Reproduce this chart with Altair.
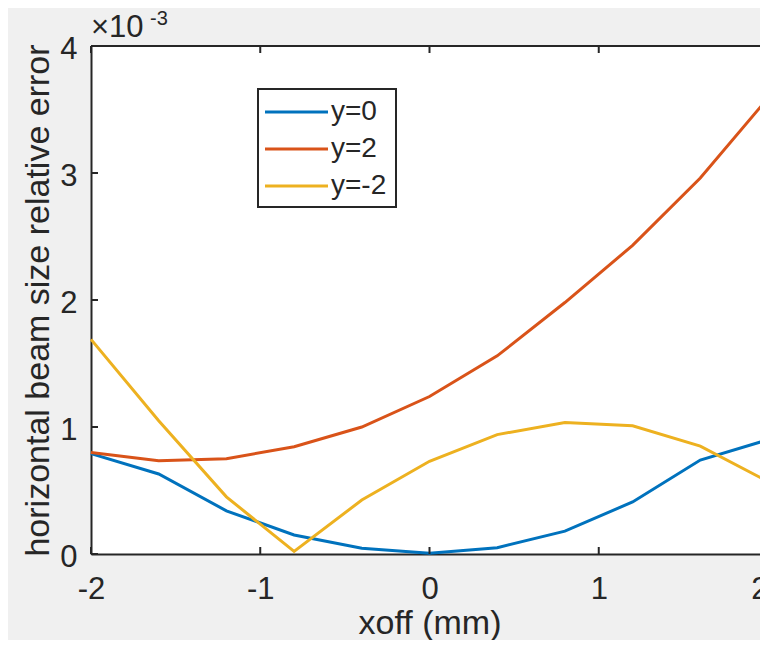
import altair as alt
import pandas as pd

# ---- data (values in units of 1e-3) ----
xoff = [-2.0, -1.6, -1.2, -0.8, -0.4, 0.0, 0.4, 0.8, 1.2, 1.6, 2.0]
err_y0 = [0.79, 0.63, 0.34, 0.15, 0.045, 0.005, 0.05, 0.18, 0.41, 0.74, 0.90]
err_y2 = [0.80, 0.735, 0.75, 0.845, 1.00, 1.24, 1.56, 1.98, 2.43, 2.96, 3.59]
err_ym2 = [1.69, 1.05, 0.45, 0.02, 0.425, 0.73, 0.94, 1.035, 1.01, 0.85, 0.57]
series = ["y=0", "y=2", "y=-2"]
colors = ["#0072BD", "#D95319", "#EDB120"]
x_ticks = [-2, -1, 0, 1, 2]
y_ticks = [0.0, 0.001, 0.002, 0.003, 0.004]

rows = []
for name, vals in zip(series, [err_y0, err_y2, err_ym2]):
    for xv, v in zip(xoff, vals):
        rows.append({"x": xv, "y": v * 1e-3, "series": name})
df = pd.DataFrame(rows)

FULL_W = 677          # full axis length (the original figure is cut at the right)
W, H = 669, 508       # visible part of the plot area
FONT = "Liberation Sans"
TXT = "#262626"

xs = alt.Scale(domain=[-2, 2], range=[0, FULL_W], nice=False, zero=False)
ys = alt.Scale(domain=[0, 0.004], nice=False, zero=False)
col = alt.Color("series:N", scale=alt.Scale(domain=series, range=colors), legend=None)

x_axis = alt.Axis(
    values=x_ticks, title="xoff (mm)", domain=True, domainColor=TXT, domainWidth=2,
    ticks=False, tickSize=0, grid=False,
    labelFontSize=31, labelColor=TXT, labelBaseline="alphabetic", labelPadding=44,
    labelFlush=False, labelOverlap=False, labelExpr="'' + datum.value",
    labelAlign={"condition": {"test": "datum.value == 2", "value": "right"}, "value": "center"},
    titleFontSize=34, titleFontWeight="normal", titleColor=TXT,
    titleBaseline="alphabetic", titleY=79, titleX=FULL_W / 2,
)
y_axis = alt.Axis(
    values=y_ticks, title="horizontal beam size relative error", domain=True,
    domainColor=TXT, domainWidth=2, ticks=False, tickSize=0, grid=False,
    labelFontSize=31, labelColor=TXT, labelBaseline="alphabetic", labelPadding=14,
    labelOffset=12, labelFlush=False, labelOverlap=False,
    labelExpr="'' + round(datum.value * 1000)",
    titleFontSize=34, titleFontWeight="normal", titleColor=TXT,
    titleBaseline="alphabetic", titleX=-43, titleAngle=270,
)

X = alt.X("x:Q", scale=xs, axis=x_axis)
Y = alt.Y("y:Q", scale=ys, axis=y_axis)

layers = []
for i, name in enumerate(series):
    sub = df[df["series"] == name]
    layers.append(alt.Chart(sub).mark_line(strokeWidth=3).encode(x=X, y=Y, color=col))

# inward ticks (MATLAB style)
xt = pd.DataFrame({"x": x_ticks})
yt = pd.DataFrame({"y": y_ticks})
tick_style = dict(color=TXT, strokeWidth=2)
layers.append(alt.Chart(xt).mark_rule(**tick_style).encode(
    x=X, y=alt.value(H), y2=alt.value(H - 7)))
layers.append(alt.Chart(xt).mark_rule(**tick_style).encode(
    x=X, y=alt.value(0), y2=alt.value(7)))
layers.append(alt.Chart(yt).mark_rule(**tick_style).encode(
    y=Y, x=alt.value(0), x2=alt.value(7)))

one = pd.DataFrame({"k": [0]})
# top frame line
layers.append(alt.Chart(one).mark_rule(color=TXT, strokeWidth=2).encode(
    x=alt.value(0), x2=alt.value(FULL_W), y=alt.value(0)))

# exponent label
layers.append(alt.Chart(one).mark_text(
    text="×10", align="left", baseline="alphabetic", fontSize=31, color=TXT, font=FONT
).encode(x=alt.value(0), y=alt.value(-9)))
layers.append(alt.Chart(one).mark_text(
    text="-3", align="left", baseline="alphabetic", fontSize=20, color=TXT, font=FONT
).encode(x=alt.value(59), y=alt.value(-21)))

# legend box
layers.append(alt.Chart(one).mark_rect(fill="white", stroke=TXT, strokeWidth=2).encode(
    x=alt.value(167), x2=alt.value(305), y=alt.value(43), y2=alt.value(161)))
for i, name in enumerate(series):
    yy = 66 + 37 * i
    layers.append(alt.Chart(one).mark_rule(color=colors[i], strokeWidth=3).encode(
        x=alt.value(174), x2=alt.value(237), y=alt.value(yy)))
    layers.append(alt.Chart(one).mark_text(
        text=name, align="left", baseline="middle", fontSize=28, color=TXT, font=FONT
    ).encode(x=alt.value(240), y=alt.value(yy)))

chart = alt.layer(*layers).properties(
    width=W, height=H,
    autosize=alt.AutoSizeParams(type="none"),
    padding={"left": 83, "top": 38, "right": 0, "bottom": 86},
    background="#f0f0f0",
).configure(font=FONT).configure_view(fill="white", stroke=None)

chart.save("out.html", embed_options={"renderer": "svg", "actions": False})
